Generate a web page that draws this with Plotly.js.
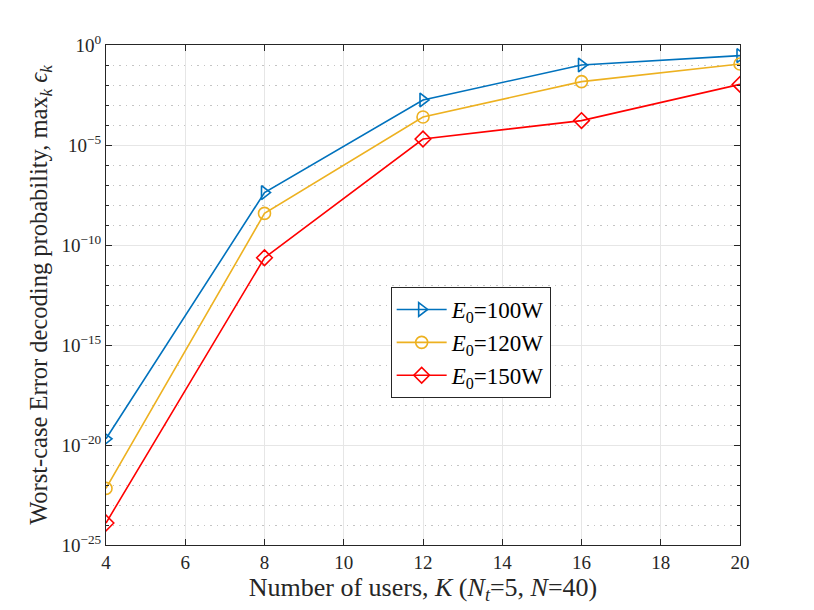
<!DOCTYPE html>
<html>
<head>
<meta charset="utf-8">
<script src="https://cdn.plot.ly/plotly-3.0.1.min.js"></script>
<style>
  body { margin: 0; background: #fff; }
  #plot { width: 814px; height: 610px; }
</style>
</head>
<body>
<div id="plot"></div>
<script>
// number of users K
var users = [4, 8, 12, 16, 20];

// log10 of worst-case error decoding probability
var logErr100 = [-19.69, -7.38, -2.75, -1.0, -0.53];
var logErr120 = [-22.17, -8.42, -3.6, -1.83, -0.95];
var logErr150 = [-23.9, -10.64, -4.7, -3.78, -1.97];

var seriesNames = ["<i>E</i><sub>0</sub>=100W", "<i>E</i><sub>0</sub>=120W", "<i>E</i><sub>0</sub>=150W"];

var yTickExp = [-25, -20, -15, -10, -5, 0];
var yMinorExp = [-24, -23, -22, -21, -19, -18, -17, -16, -14, -13, -12, -11,
                 -9, -8, -7, -6, -4, -3, -2, -1];

function pow10(arr) {
    return arr.map(function (v) { return Math.pow(10, v); });
}

var fontFam = "'Liberation Serif', 'DejaVu Serif', serif";

function mkTrace(y, name, color, symbol) {
    return {
        x: users,
        y: pow10(y),
        name: name,
        type: "scatter",
        mode: "lines+markers",
        line: { color: color, width: 1.6 },
        marker: { symbol: symbol, size: 12, color: color, line: { color: color, width: 1.6 } }
    };
}

var data = [
    mkTrace(logErr100, seriesNames[0], "#0072BD", "triangle-right-open"),
    mkTrace(logErr120, seriesNames[1], "#EDB120", "circle-open"),
    mkTrace(logErr150, seriesNames[2], "#FF0000", "diamond-open")
];

var layout = {
    width: 814,
    height: 610,
    paper_bgcolor: "#fff",
    plot_bgcolor: "#fff",
    margin: { l: 106, r: 74, t: 45, b: 65 },
    font: { family: fontFam, color: "#262626", size: 19 },
    showlegend: true,
    legend: {
        x: 0.449, y: 0.516, xanchor: "left", yanchor: "top",
        bgcolor: "#fff",
        bordercolor: "#262626",
        borderwidth: 1,
        itemwidth: 50,
        font: { family: fontFam, size: 23, color: "#000" },
        tracegroupgap: 0
    },
    xaxis: {
        range: [4, 20],
        tickvals: [4, 6, 8, 10, 12, 14, 16, 18, 20],
        ticks: "inside",
        ticklen: 6,
        tickcolor: "#262626",
        showline: true,
        linecolor: "#262626",
        linewidth: 1,
        mirror: "ticks",
        showgrid: true,
        gridcolor: "#e6e6e6",
        gridwidth: 1,
        zeroline: false,
        tickfont: { family: fontFam, size: 19, color: "#262626" },
        title: {
            text: "Number of users, <i>K</i> (<i>N</i><sub><i>t</i></sub>=5, <i>N</i>=40)",
            font: { family: fontFam, size: 26, color: "#262626" },
            standoff: 4
        }
    },
    yaxis: {
        type: "log",
        range: [-25, 0],
        tickvals: pow10(yTickExp),
        ticktext: yTickExp.map(function (e) { return "10<sup>" + (e === 0 ? "0" : "\u2212" + (-e)) + "</sup>"; }),
        ticks: "inside",
        ticklen: 6,
        tickcolor: "#262626",
        showline: true,
        linecolor: "#262626",
        linewidth: 1,
        mirror: "ticks",
        showgrid: true,
        gridcolor: "#e6e6e6",
        gridwidth: 1,
        zeroline: false,
        tickfont: { family: fontFam, size: 19, color: "#262626" },
        minor: {
            tickvals: pow10(yMinorExp),
            ticks: "inside",
            ticklen: 3,
            tickcolor: "#262626",
            showgrid: true,
            gridcolor: "#c4c4c4",
            griddash: "1.5px,5px",
            gridwidth: 1
        },
        title: {
            text: "Worst-case Error decoding probability, max<sub><i>k</i></sub> <i>\u03f5</i><sub><i>k</i></sub>",
            font: { family: fontFam, size: 24.5, color: "#262626" },
            standoff: 6
        }
    }
};

Plotly.newPlot("plot", data, layout, { displayModeBar: false });
</script>
</body>
</html>
